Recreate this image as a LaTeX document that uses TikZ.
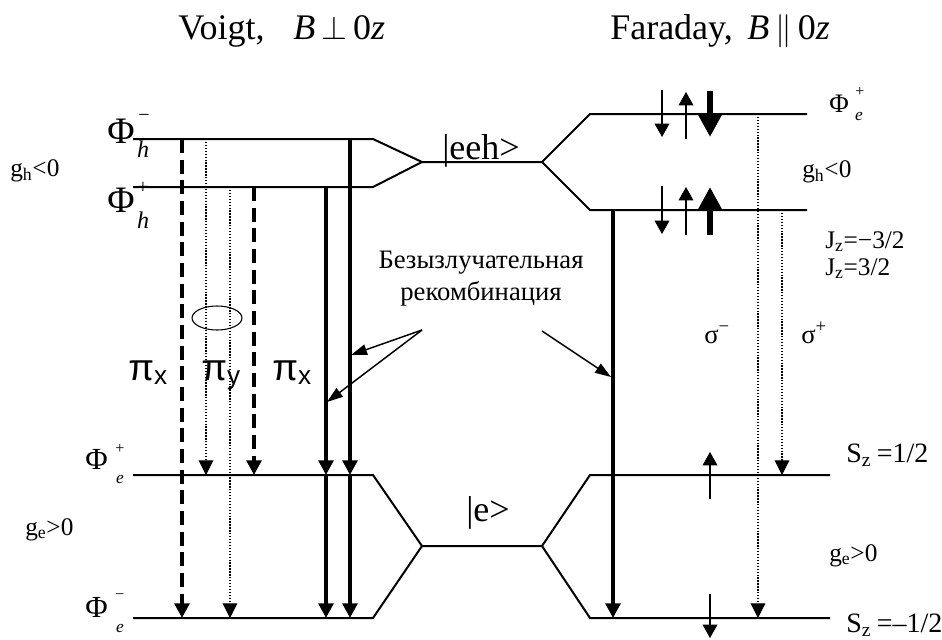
\documentclass[tikz,border=0pt]{standalone}
\usepackage{fontspec}
\setmainfont{Liberation Serif}
\newfontfamily\arialf{Liberation Sans}
\usetikzlibrary{arrows.meta}
\begin{document}
\begin{tikzpicture}[x=0.75pt,y=-0.75pt,
  lvl/.style={line width=1.5pt,line join=miter},
  solidtr/.style={line width=3pt,-{Triangle[width=11pt,length=11pt]}},
  dashtr/.style={line width=3pt,dash pattern=on 10.5pt off 5pt,-{Triangle[width=11pt,length=11pt]}},
  dottr/.style={line width=0.8pt,dash pattern=on 1pt off 1.2pt,-{Triangle[width=11pt,length=11pt]}},
  spinthin/.style={line width=1.1pt,-{Triangle[width=11pt,length=10pt]}},
  spinthick/.style={line width=5pt,-{Triangle[width=17pt,length=17pt]}},
  labarr/.style={line width=1.1pt,-{Triangle[width=8pt,length=12pt]}},
  lab/.style={inner sep=0pt,anchor=base west},
  sml/.style={inner sep=0pt,anchor=center},
  f27/.style={font=\fontsize{27}{32}\selectfont},
  f21/.style={font=\fontsize{21}{25}\selectfont},
  f20/.style={font=\fontsize{20}{24}\selectfont},
  f19/.style={font=\fontsize{19}{23}\selectfont},
  pif/.style={font=\arialf\fontsize{28}{32}\selectfont},
]
\useasboundingbox (0,0) rectangle (942,639);

% ---- titles
\node[lab,f27] (tvoigt) at (178,39) {Voigt,\hspace{0.8em}\textit{B}\,$\perp$\,0\textit{z}};
\node[lab,f27] (tfar) at (610,39) {Faraday,\hspace{0.4em}\textit{B}\,$\parallel$\,0\textit{z}};

% ---- level coordinates
\coordinate (hmL) at (133,139); \coordinate (hmR) at (373,139);
\coordinate (hpL) at (133,187); \coordinate (hpR) at (373,187);
\coordinate (eehL) at (422,162); \coordinate (eehR) at (542,162);
\coordinate (ftL) at (590,114); \coordinate (ftR) at (807,114);
\coordinate (fbL) at (590,210); \coordinate (fbR) at (807,210);
\coordinate (epL) at (133,475); \coordinate (epR) at (373,475);
\coordinate (emL) at (133,618); \coordinate (emR) at (373,618);
\coordinate (eL) at (422,546); \coordinate (eR) at (542,546);
\coordinate (sTL) at (590,475); \coordinate (sTR) at (830,475);
\coordinate (sBL) at (590,618); \coordinate (sBR) at (830,618);

\draw[lvl] (hmL) -- (hmR) -- (eehL) -- (eehR) -- (ftL) -- (ftR);
\draw[lvl] (hpL) -- (hpR) -- (eehL);
\draw[lvl] (eehR) -- (fbL) -- (fbR);
\draw[lvl] (epL) -- (epR) -- (eL) -- (eR) -- (sTL) -- (sTR);
\draw[lvl] (emL) -- (emR) -- (eL);
\draw[lvl] (eR) -- (sBL) -- (sBR);

% ---- Voigt transitions
\coordinate (t1a) at (182,139); \coordinate (t1b) at (182,618);
\coordinate (t2a) at (206,139); \coordinate (t2b) at (206,475);
\coordinate (t3a) at (230,187); \coordinate (t3b) at (230,618);
\coordinate (t4a) at (254,187); \coordinate (t4b) at (254,475);
\coordinate (t5a) at (326,187); \coordinate (t5b) at (326,475); \coordinate (t5c) at (326,618);
\coordinate (t6a) at (350,139); \coordinate (t6b) at (350,475); \coordinate (t6c) at (350,618);
\draw[dashtr] (t1a) -- (t1b);
\draw[dottr] (t2a) -- (t2b);
\draw[dottr] (t3a) -- (t3b);
\draw[dashtr] (t4a) -- (t4b);
\draw[solidtr] (t5a) -- (t5b);
\draw[solidtr] (t5b) -- (t5c);
\draw[solidtr] (t6a) -- (t6b);
\draw[solidtr] (t6b) -- (t6c);

\draw[line width=0.8pt] (217,318) ellipse [x radius=18.75pt, y radius=9pt];

\node[lab,pif] (pix1) at (128,380) {π\textsubscript{x}};
\node[lab,pif] (piy) at (201,380) {π\textsubscript{y}};
\node[lab,pif] (pix2) at (272,380) {π\textsubscript{x}};

% ---- Faraday transitions
\coordinate (f1a) at (613,210); \coordinate (f1b) at (613,618);
\coordinate (f2a) at (758,114); \coordinate (f2b) at (758,618);
\coordinate (f3a) at (782,210); \coordinate (f3b) at (782,475);
\draw[solidtr] (f1a) -- (f1b);
\draw[dottr] (f2a) -- (f2b);
\draw[dottr] (f3a) -- (f3b);

% ---- spin arrows
\coordinate (s1a) at (662,90);  \coordinate (s1b) at (662,137);
\coordinate (s2a) at (686,139); \coordinate (s2b) at (686,92);
\coordinate (s3a) at (710,91);  \coordinate (s3b) at (710,137);
\coordinate (s4a) at (662,186); \coordinate (s4b) at (662,234);
\coordinate (s5a) at (686,235); \coordinate (s5b) at (686,187);
\coordinate (s6a) at (710,235); \coordinate (s6b) at (710,187);
\coordinate (s7a) at (710,499); \coordinate (s7b) at (710,452);
\coordinate (s8a) at (710,594); \coordinate (s8b) at (710,638);
\draw[spinthin] (s1a) -- (s1b);
\draw[spinthin] (s2a) -- (s2b);
\draw[spinthick] (s3a) -- (s3b);
\draw[spinthin] (s4a) -- (s4b);
\draw[spinthin] (s5a) -- (s5b);
\draw[spinthick] (s6a) -- (s6b);
\draw[spinthin] (s7a) -- (s7b);
\draw[spinthin] (s8a) -- (s8b);

% ---- state labels
\node[lab,f27] (eeh) at (442,159) {|eeh>};
\node[lab,f27] (ket) at (466,521) {|e>};

\node[inner sep=0pt,anchor=base,f20] (bez) at (481,268) {Безызлучательная};
\node[inner sep=0pt,anchor=base,f20] (rek) at (481,300) {рекомбинация};
\coordinate (a1) at (422,330);
\coordinate (a2) at (542,331);
\coordinate (a1t) at (351,355);
\coordinate (a2t) at (327,402);
\coordinate (a3t) at (611,377);
\draw[labarr] (a1) -- (a1t);
\draw[labarr] (a1) -- (a2t);
\draw[labarr] (a2) -- (a3t);

% ---- Phi labels
\node[lab,font=\fontsize{28}{32}\selectfont] (phm) at (107,143) {Φ};
\node[sml,font=\fontsize{15}{17}\selectfont] (phmsup) at (144,118) {−};
\node[sml,font=\fontsize{18}{20}\itshape] (phmsub) at (143,149) {h};
\node[lab,font=\fontsize{28}{32}\selectfont] (php) at (107,212) {Φ};
\node[sml,font=\fontsize{15}{17}\selectfont] (phpsup) at (143,188) {+};
\node[sml,font=\fontsize{18}{20}\itshape] (phpsub) at (143,220) {h};
\node[lab,font=\fontsize{23}{27}\selectfont] (pep) at (85,469) {Φ};
\node[sml,font=\fontsize{12}{14}\selectfont] (pepsup) at (120,449) {+};
\node[sml,font=\fontsize{13}{15}\itshape] (pepsub) at (120,479) {e};
\node[lab,font=\fontsize{23}{27}\selectfont] (pem) at (85,617) {Φ};
\node[sml,font=\fontsize{12}{14}\selectfont] (pemsup) at (120,597) {−};
\node[sml,font=\fontsize{13}{15}\itshape] (pemsub) at (120,628) {e};
\node[lab,font=\fontsize{20}{24}\selectfont] (pfe) at (829,112) {Φ};
\node[sml,font=\fontsize{12}{14}\selectfont] (pfesup) at (860,92) {+};
\node[sml,font=\fontsize{13}{15}\itshape] (pfesub) at (859,116) {e};

% ---- side labels
\node[lab,f19] (ghl) at (10,176) {g\textsubscript{h}<0};
\node[lab,f19] (gel) at (25,535) {g\textsubscript{e}>0};
\node[lab,f19] (ghr) at (802,177) {g\textsubscript{h}<0};
\node[lab,f19] (ger) at (829,561) {g\textsubscript{e}>0};
\node[lab,f19] (jz1) at (825,248) {J\textsubscript{z}=−3/2};
\node[lab,f19] (jz2) at (825,275) {J\textsubscript{z}=3/2};
\node[lab,f20] (sgm) at (704,343) {σ\textsuperscript{−}};
\node[lab,f20] (sgp) at (801,343) {σ\textsuperscript{+}};
\node[lab,f21] (sz1) at (846,462) {S\textsubscript{z}\hspace{0.2em}=1/2};
\node[lab,f21] (sz2) at (846,632) {S\textsubscript{z}\hspace{0.2em}=–1/2};
\end{tikzpicture}
\end{document}
